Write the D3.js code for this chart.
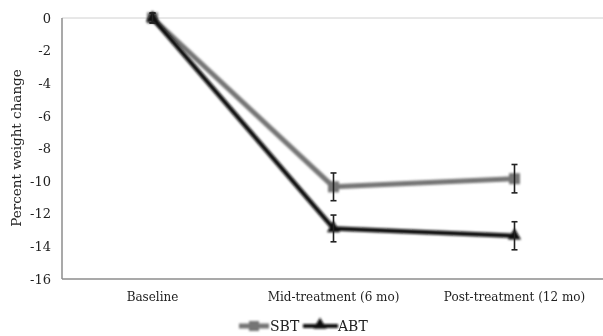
<!DOCTYPE html>
<html><head><meta charset="utf-8">
<script src="https://cdn.jsdelivr.net/npm/d3@7"></script>
<style>body{margin:0;background:#fff}svg{display:block}text{font-family:"DejaVu Serif",serif;fill:#222}</style>
</head><body><svg id="c" width="603" height="336"></svg>
<script>
const categories = ["Baseline", "Mid-treatment (6 mo)", "Post-treatment (12 mo)"];
const sbtValues = [0, -10.35, -9.85];
const sbtErrors = [0.3, 0.85, 0.87];
const abtValues = [0, -12.9, -13.35];
const abtErrors = [0.3, 0.82, 0.86];
const yTicks = [0, -2, -4, -6, -8, -10, -12, -14, -16];
const seriesNames = ["SBT", "ABT"];

const svg = d3.select("#c");
const x = d3.scaleBand().domain(categories).range([62, 605]);
const y = d3.scaleLinear().domain([-16, 0]).range([279, 18]);
const cx = d => x(d) + x.bandwidth() / 2;

const defs = svg.append("defs");
const f = defs.append("filter").attr("id", "sh").attr("x", "-20%").attr("y", "-20%").attr("width", "140%").attr("height", "140%");
f.append("feGaussianBlur").attr("in", "SourceGraphic").attr("stdDeviation", 0.8);
const ft = defs.append("filter").attr("id", "tb");
ft.append("feGaussianBlur").attr("in", "SourceGraphic").attr("stdDeviation", 0.35);

// axes
svg.append("line").attr("x1", 62).attr("x2", 603).attr("y1", y(0)).attr("y2", y(0)).attr("stroke", "#d0d0d0").attr("stroke-width", 1);
svg.append("line").attr("x1", 62).attr("x2", 603).attr("y1", y(-16)).attr("y2", y(-16)).attr("stroke", "#8c8c8c").attr("stroke-width", 1.5);
svg.append("line").attr("x1", 62).attr("x2", 62).attr("y1", y(0)).attr("y2", y(-16)).attr("stroke", "#8c8c8c").attr("stroke-width", 1.5);

const yAxis = svg.append("g").attr("transform", "translate(62,0)").attr("filter", "url(#tb)")
  .call(d3.axisLeft(y).tickValues(yTicks).tickSize(0).tickPadding(11).tickFormat(d => d === 0 ? "0" : "-" + Math.abs(d)));
yAxis.select(".domain").remove();
yAxis.selectAll("text").style("font-size", "13px").style("font-family", "DejaVu Serif").attr("fill", "#3a3a3a");

const xAxis = svg.append("g").attr("transform", "translate(0,279)").attr("filter", "url(#tb)")
  .call(d3.axisBottom(x).tickSize(0).tickPadding(13));
xAxis.select(".domain").remove();
xAxis.selectAll("text").style("font-size", "12px").style("font-family", "DejaVu Serif").attr("fill", "#222");

svg.append("text").attr("transform", "translate(21,148) rotate(-90)").attr("text-anchor", "middle").attr("filter", "url(#tb)")
  .style("font-size", "13.5px").text("Percent weight change");

function drawSeries(vals, errs, color, width, shape) {
  const g = svg.append("g").attr("filter", "url(#sh)");
  const line = d3.line().x((d, i) => cx(categories[i])).y(d => y(d));
  g.append("path").datum(vals).attr("d", line).attr("fill", "none").attr("stroke", color).attr("stroke-width", width).attr("stroke-linejoin", "round");
  vals.forEach((v, i) => {
    const px = cx(categories[i]);
    if (shape === "square") {
      g.append("rect").attr("x", px - 5.5).attr("y", y(v) - 5.5).attr("width", 11).attr("height", 11).attr("fill", color);
    } else {
      g.append("path").attr("d", d3.symbol().type(d3.symbolTriangle).size(75)()).attr("transform", `translate(${px},${y(v)})`).attr("fill", color);
    }
  });
  const eg = svg.append("g");
  vals.forEach((v, i) => {
    const px = cx(categories[i]);
    const t = y(v + errs[i]), b = y(v - errs[i]);
    eg.append("line").attr("x1", px).attr("x2", px).attr("y1", t).attr("y2", b).attr("stroke", "#222").attr("stroke-width", 1.6);
    eg.append("line").attr("x1", px - 3).attr("x2", px + 3).attr("y1", t).attr("y2", t).attr("stroke", "#222").attr("stroke-width", 1.6);
    eg.append("line").attr("x1", px - 3).attr("x2", px + 3).attr("y1", b).attr("y2", b).attr("stroke", "#222").attr("stroke-width", 1.6);
  });
}
drawSeries(sbtValues, sbtErrors, "#747474", 5, "square");
drawSeries(abtValues, abtErrors, "#0c0c0c", 4.5, "triangle");

// legend
const lg = svg.append("g").attr("filter", "url(#sh)");
lg.append("line").attr("x1", 239).attr("x2", 269).attr("y1", 326).attr("y2", 326).attr("stroke", "#747474").attr("stroke-width", 5);
lg.append("rect").attr("x", 249).attr("y", 321).attr("width", 10).attr("height", 10).attr("fill", "#747474");
lg.append("line").attr("x1", 303).attr("x2", 338).attr("y1", 326).attr("y2", 326).attr("stroke", "#0c0c0c").attr("stroke-width", 4);
lg.append("path").attr("d", d3.symbol().type(d3.symbolTriangle).size(75)()).attr("transform", "translate(320,325)").attr("fill", "#0c0c0c");
svg.append("text").attr("x", 270).attr("y", 331).attr("filter", "url(#tb)").style("font-size", "14px").text(seriesNames[0]);
svg.append("text").attr("x", 338).attr("y", 331).attr("filter", "url(#tb)").style("font-size", "14px").text(seriesNames[1]);
</script></body></html>
